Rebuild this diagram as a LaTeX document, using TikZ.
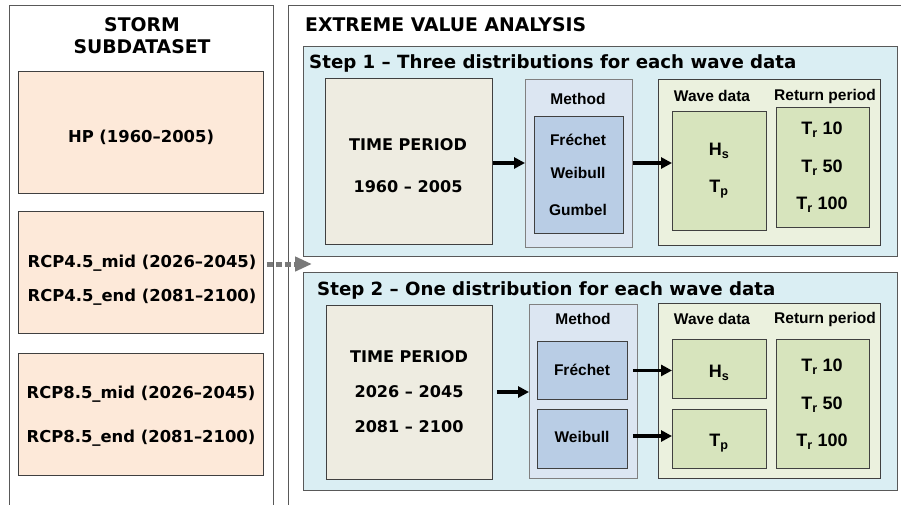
\documentclass[tikz,border=0pt]{standalone}
\usepackage{fontspec}
\setmainfont{DejaVu Sans}
\newfontfamily\arialf{Liberation Sans}
\usetikzlibrary{arrows.meta}
\definecolor{peach}{HTML}{FDE9D9}
\definecolor{stepblue}{HTML}{DAEEF3}
\definecolor{tpbeige}{HTML}{EEECE1}
\definecolor{methout}{HTML}{DCE6F2}
\definecolor{methin}{HTML}{B9CDE5}
\definecolor{waveout}{HTML}{EBF1DE}
\definecolor{wavein}{HTML}{D7E4BD}
\definecolor{edge}{HTML}{404040}
\definecolor{panel}{HTML}{595959}
\tikzset{
  box/.style={draw=edge, line width=0.9pt, rectangle, anchor=north west, inner sep=0pt},
  panelbox/.style={draw=panel, line width=1.2pt, fill=white, rectangle, anchor=north west, inner sep=0pt},
  vtxt/.style={font=\fontsize{16.4}{18}\selectfont\bfseries, inner sep=0pt},
  tptxt/.style={font=\fontsize{16.1}{18}\selectfont\bfseries, inner sep=0pt},
  vhead/.style={font=\fontsize{18.8}{22}\selectfont\bfseries, inner sep=0pt},
  steptitle/.style={font=\fontsize{18.2}{20}\selectfont\bfseries, inner sep=0pt, anchor=west},
  atxt/.style={font=\arialf\fontsize{15.5}{17}\selectfont\bfseries, inner sep=0pt},
  btxt/.style={font=\arialf\fontsize{18}{20}\selectfont\bfseries, inner sep=0pt},
  flow/.style={line width=3.5pt, -{Triangle[length=11pt,width=11pt]}},
  dflow/.style={line width=5pt, draw=gray!95!black, dash pattern=on 6pt off 3pt, -{Triangle[length=17pt,width=14pt]}}
}
\begin{document}
\begin{tikzpicture}[x=1pt,y=-1pt]
\useasboundingbox (0,0) rectangle (901,504);
\clip (0,0) rectangle (901,504);
\fill[white] (0,0) rectangle (901,504);
% panels
\node[panelbox, minimum width=264pt, minimum height=520pt] (left) at (9,5) {};
\node[panelbox, minimum width=640pt, minimum height=520pt] (right) at (288,5) {};
\node[vhead] (storm1) at (142,25) {STORM};
\node[vhead] (storm2) at (142,47) {SUBDATASET};
\node[vhead, anchor=west] (eva) at (305,25) {EXTREME VALUE ANALYSIS};
% left boxes
\node[box, fill=peach, minimum width=245pt, minimum height=122pt] (hp) at (18,71) {};
\node[vtxt] (hpt) at (141,137) {HP (1960--2005)};
\node[box, fill=peach, minimum width=245pt, minimum height=122pt] (r45) at (18,211) {};
\node[vtxt] (r45a) at (142,263) {RCP4.5\_mid (2026--2045)};
\node[vtxt] (r45b) at (142,297) {RCP4.5\_end (2081--2100)};
\node[box, fill=peach, minimum width=245pt, minimum height=122pt] (r85) at (18,353) {};
\node[vtxt] (r85a) at (141,394) {RCP8.5\_mid (2026--2045)};
\node[vtxt] (r85b) at (141,438) {RCP8.5\_end (2081--2100)};
% step 1
\node[box, draw=panel, line width=1.2pt, fill=stepblue, minimum width=594pt, minimum height=210pt] (s1) at (303,46) {};
\node[steptitle] (s1t) at (309,63) {Step 1 -- Three distributions for each wave data};
\node[box, fill=tpbeige, minimum width=167pt, minimum height=166pt] (tp1) at (325,78) {};
\node[tptxt] (tp1a) at (408,145) {TIME PERIOD};
\node[tptxt] (tp1b) at (408,187) {1960 -- 2005};
\node[box, draw=gray, fill=methout, minimum width=107pt, minimum height=168pt] (m1) at (525,79) {};
\node[atxt] (m1t) at (578,99) {Method};
\node[box, fill=methin, minimum width=89pt, minimum height=117pt] (m1i) at (534,116) {};
\node[atxt] (m1a) at (578,140) {Fréchet};
\node[atxt] (m1b) at (578,173) {Weibull};
\node[atxt] (m1c) at (578,210) {Gumbel};
\node[box, fill=waveout, minimum width=222pt, minimum height=166pt] (w1) at (658,79) {};
\node[atxt] (w1t) at (712,96) {Wave data};
\node[atxt] (r1t) at (825,96) {Return period};
\node[box, fill=wavein, minimum width=94pt, minimum height=119pt] (w1i) at (672,111) {};
\node[btxt] (w1a) at (719,151) {H\textsubscript{s}};
\node[btxt] (w1b) at (719,189) {T\textsubscript{p}};
\node[box, fill=wavein, minimum width=93pt, minimum height=120pt] (r1i) at (776,107) {};
\node[btxt] (r1a) at (822,130) {T\textsubscript{r} 10};
\node[btxt] (r1b) at (822,168) {T\textsubscript{r} 50};
\node[btxt] (r1c) at (822,205) {T\textsubscript{r} 100};
% step 2
\node[box, draw=panel, line width=1.2pt, fill=stepblue, minimum width=594pt, minimum height=218pt] (s2) at (303,272) {};
\node[steptitle] (s2t) at (317,290) {Step 2 -- One distribution for each wave data};
\node[box, fill=tpbeige, minimum width=166pt, minimum height=174pt] (tp2) at (326,305) {};
\node[tptxt] (tp2a) at (409,357) {TIME PERIOD};
\node[tptxt] (tp2b) at (409,392) {2026 -- 2045};
\node[tptxt] (tp2c) at (409,427) {2081 -- 2100};
\node[box, draw=gray, fill=methout, minimum width=108pt, minimum height=174pt] (m2) at (529,304) {};
\node[atxt] (m2t) at (583,319) {Method};
\node[box, fill=methin, minimum width=90pt, minimum height=58pt] (m2a) at (537,341) {};
\node[atxt] (m2at) at (582,370) {Fréchet};
\node[box, fill=methin, minimum width=90pt, minimum height=59pt] (m2b) at (537,409) {};
\node[atxt] (m2bt) at (582,437) {Weibull};
\node[box, fill=waveout, minimum width=222pt, minimum height=175pt] (w2) at (658,303) {};
\node[atxt] (w2t) at (712,319) {Wave data};
\node[atxt] (r2t) at (825,319) {Return period};
\node[box, fill=wavein, minimum width=94pt, minimum height=59pt] (hs2) at (672,339) {};
\node[btxt] (hs2t) at (719,373) {H\textsubscript{s}};
\node[box, fill=wavein, minimum width=94pt, minimum height=59pt] (tp2w) at (672,409) {};
\node[btxt] (tp2wt) at (719,443) {T\textsubscript{p}};
\node[box, fill=wavein, minimum width=93pt, minimum height=129pt] (r2i) at (776,339) {};
\node[btxt] (r2a) at (822,367) {T\textsubscript{r} 10};
\node[btxt] (r2b) at (822,405) {T\textsubscript{r} 50};
\node[btxt] (r2c) at (822,442) {T\textsubscript{r} 100};
% arrows
\draw[flow] (tp1.east |- 0,163) -- (m1.west |- 0,163);
\draw[flow] (m1.east |- 0,163) -- (w1i.west |- 0,163);
\draw[flow] (tp2.east |- 0,392) ++(4,0) -- (m2.west |- 0,392);
\draw[flow] (m2a.east) ++(5,0) -- (hs2.west |- m2a.east);
\draw[flow] (m2b.east |- 0,436) ++(5,0) -- (tp2w.west |- 0,436);
\coordinate (dtip) at (312,264);
\draw[dflow] (r45.east |- 0,264) ++(3,0) -- (dtip);
\end{tikzpicture}
\end{document}
